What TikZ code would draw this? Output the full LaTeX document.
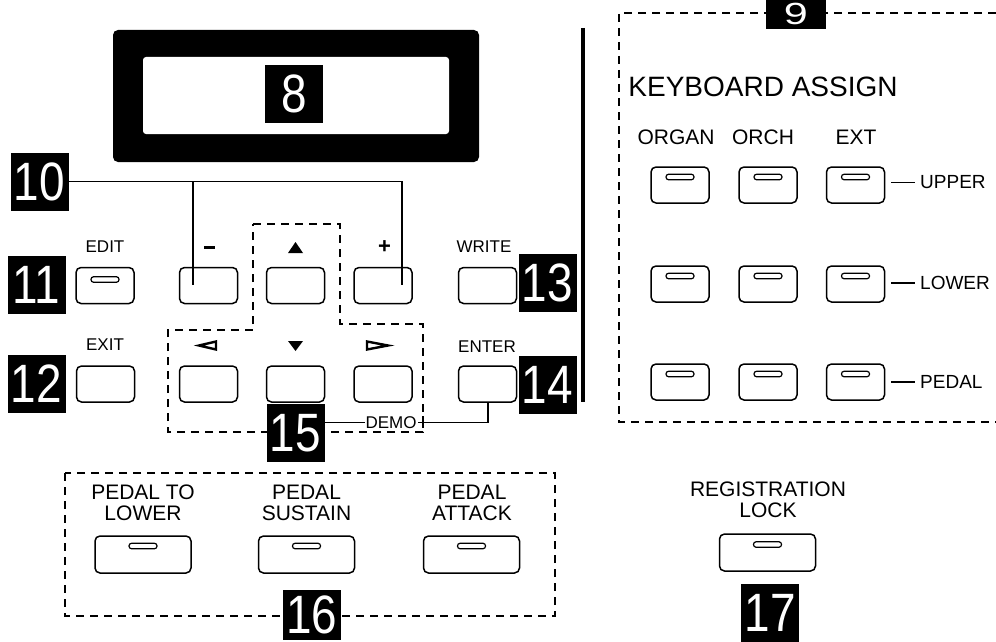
\documentclass[tikz,border=0pt]{standalone}
\usepackage{fontspec}
\setmainfont{Liberation Sans}
\usepackage{graphicx}
\begin{document}
\begin{tikzpicture}[x=1pt,y=-1pt,
  btn/.style={draw, line width=1.5pt, rounded corners=5pt, minimum width=58pt, minimum height=36pt, inner sep=0pt},
  wbtn/.style={btn, minimum width=96pt, minimum height=37pt},
  led/.style={draw, line width=1.2pt, rounded corners=2.6pt, minimum width=28pt, minimum height=5.5pt, inner sep=0pt},
  num/.style={fill=black, text=white, minimum width=58pt, minimum height=58pt, inner sep=0pt, font=\fontsize{54}{54}\selectfont},
  lbl/.style={font=\fontsize{17}{17}\selectfont, inner sep=0pt},
  mlbl/.style={font=\fontsize{21}{21}\selectfont, align=center, inner sep=0pt},
  rlbl/.style={font=\fontsize{19}{19}\selectfont, inner sep=0pt, anchor=west},
  conn/.style={line width=1.8pt},
  tick/.style={line width=1.4pt},
  dsh/.style={line width=1.4pt, dash pattern=on 8pt off 6pt},
]
\useasboundingbox (0,0) rectangle (996,642);
\clip (0,0) rectangle (996,642);

% display
\node[fill=black, rounded corners=5pt, minimum width=366pt, minimum height=132pt, inner sep=0pt] (disp) at (296,96) {};
\node[fill=white, rounded corners=3pt, minimum width=306pt, minimum height=77pt, inner sep=0pt] (scr) at (296,95.5) {};
\node[num] (n8) at (294,94) {\scalebox{0.85}[1]{8}};

% separator
\coordinate (sepT) at (583,28);
\coordinate (sepB) at (583,402);
\draw[line width=4.5pt] (sepT) -- (sepB);

% dashed groups
\draw[dsh] (253,224) -- (340,224) -- (340,324) -- (423,324) -- (423,432) -- (168,432) -- (168,330) -- (253,330) -- cycle;
\draw[dsh] (1010,13) -- (619,13) -- (619,422) -- (1010,422);
\draw[dsh] (65,473) rectangle (555,616);

% row 1 buttons
\node[btn] (edit) at (105,285.5) {};
\node[led, yshift=6pt] (editled) at (edit) {};
\node[btn] (minus) at (208.5,285.5) {};
\node[btn] (up) at (295.5,285.5) {};
\node[btn] (plus) at (383,285.5) {};
\node[btn] (write) at (487.5,285.5) {};
% row 2 buttons
\node[btn] (exit) at (105.5,384) {};
\node[btn] (left) at (208.5,384) {};
\node[btn] (down) at (295.5,384) {};
\node[btn] (right) at (383,384) {};
\node[btn] (enter) at (487.5,384) {};

% labels above buttons
\node[lbl] (tedit) at (105,247) {EDIT};
\node[inner sep=0pt, minimum width=10pt, minimum height=3pt] (tminus) at (209.5,247.5) {};
\draw[line width=2.2pt] (tminus.west) -- (tminus.east);
\node[inner sep=0pt, minimum size=12pt] (tup) at (295.5,247) {};
\fill (288,253) -- (303,253) -- (295.5,242) -- cycle;
\node[font=\fontsize{22}{22}\selectfont\bfseries, inner sep=0pt] (tplus) at (384.5,247) {+};
\node[lbl] (twrite) at (484,247) {WRITE};
\node[lbl] (texit) at (105,345) {EXIT};
\node[inner sep=0pt, minimum size=12pt] (tleft) at (207,345.5) {};
\draw[line width=2.4pt, line join=miter] (216,341.5) -- (216,349.5) -- (199,345.5) -- cycle;
\node[inner sep=0pt, minimum size=12pt] (tdown) at (295.5,345.5) {};
\fill (288,341) -- (303,341) -- (295.5,351) -- cycle;
\node[inner sep=0pt, minimum size=12pt] (tright) at (378,345.5) {};
\draw[line width=2.4pt, line join=miter] (367,341.5) -- (367,349.5) -- (388,345.5) -- cycle;
\node[lbl] (tenter) at (487,347) {ENTER};

% keyboard assign
\node[font=\fontsize{28}{28}\selectfont, inner sep=0pt] (kbt) at (763,87) {KEYBOARD ASSIGN};
\node[mlbl] (torgan) at (676,137) {ORGAN};
\node[mlbl] (torch) at (763,137) {ORCH};
\node[mlbl] (text) at (856,137) {EXT};

\node[btn] (k11) at (680,185) {};
\node[btn] (k12) at (768,185) {};
\node[btn] (k13) at (855.5,185) {};
\node[btn] (k21) at (680,284) {};
\node[btn] (k22) at (768,284) {};
\node[btn] (k23) at (855.5,284) {};
\node[btn] (k31) at (680,382) {};
\node[btn] (k32) at (768,382) {};
\node[btn] (k33) at (855.5,382) {};
\foreach \k in {k11,k12,k13,k21,k22,k23,k31,k32,k33}{
  \node[led, yshift=8pt] (\k led) at (\k) {};
}
\node[rlbl] (tupper) at (920,182.5) {UPPER};
\node[rlbl] (tlower) at (920,283) {LOWER};
\node[rlbl] (tpedal) at (920,382) {PEDAL};
\draw[tick] (k13.east |- tupper) ++(6,0) -- ([xshift=-5pt]tupper.west);
\draw[tick] (k23.east |- tlower) ++(6,0) -- ([xshift=-5pt]tlower.west);
\draw[tick] (k33.east |- tpedal) ++(6,0) -- ([xshift=-5pt]tpedal.west);

% bottom group
\node[mlbl] (tptl) at (143,502.5) {PEDAL TO\\LOWER};
\node[mlbl] (tps) at (306.5,502.5) {PEDAL\\SUSTAIN};
\node[mlbl] (tpa) at (472,502.5) {PEDAL\\ATTACK};
\node[wbtn] (ptl) at (143,554.5) {};
\node[wbtn] (ps) at (306.5,554.5) {};
\node[wbtn] (pa) at (471.5,554.5) {};
\node[led, yshift=8.5pt] (ptlled) at (ptl) {};
\node[led, yshift=8.5pt] (psled) at (ps) {};
\node[led, yshift=8.5pt] (paled) at (pa) {};

\node[mlbl] (treg) at (768,499.5) {REGISTRATION\\LOCK};
\node[wbtn] (reg) at (767.5,552.5) {};
\node[led, yshift=8pt] (regled) at (reg) {};

% connector 10
\node[num] (n10) at (39.5,181.5) {\scalebox{0.85}[1]{10}};
\coordinate (m10) at (193,285);
\coordinate (p10) at (402,285);
\draw[conn] (n10.east) -- (n10.east -| p10) -- (p10);
\draw[conn] (n10.east -| m10) -- (m10);

% DEMO connector
\node[num] (n15) at (295.5,433) {\scalebox{0.85}[1]{15}};
\coordinate (d) at (488,422.5);
\draw[line width=1.5pt] (enter.south -| d) -- (d) -- (n15.east |- d);
\node[lbl, fill=white, inner xsep=1pt, inner ysep=1pt] (demo) at (391,423) {DEMO};
\draw[line width=1.4pt] (423,416) -- (423,428);

% number labels
\node[fill=black, text=white, minimum width=60pt, minimum height=30pt, inner sep=0pt, font=\fontsize{36}{36}\selectfont] (n9) at (796,14) {\scalebox{1.2}[0.85]{9}};
\node[num] (n11) at (36.5,284.5) {\scalebox{0.85}[1]{11}};
\node[num] (n12) at (36.5,383.5) {\scalebox{0.85}[1]{12}};
\node[num] (n13) at (547.5,282.5) {\scalebox{0.85}[1]{13}};
\node[num] (n14) at (547.5,385) {\scalebox{0.85}[1]{14}};
\node[num, minimum height=50pt] (n16) at (312,614.5) {\scalebox{0.85}[1]{16}};
\node[num] (n17) at (770,613) {\scalebox{0.85}[1]{17}};
\end{tikzpicture}
\end{document}
